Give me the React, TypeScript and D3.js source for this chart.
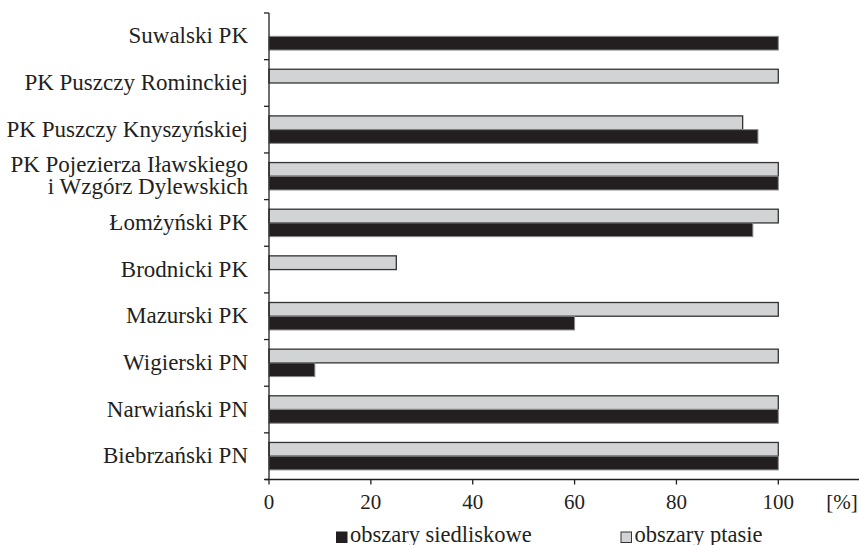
import React, { useEffect, useRef } from 'react';
import * as d3 from 'd3';

// Parks, top to bottom as in the chart
const parks = [
  'Suwalski PK',
  'PK Puszczy Rominckiej',
  'PK Puszczy Knyszyńskiej',
  'PK Pojezierza Iławskiego\ni Wzgórz Dylewskich',
  'Łomżyński PK',
  'Brodnicki PK',
  'Mazurski PK',
  'Wigierski PN',
  'Narwiański PN',
  'Biebrzański PN',
];

// share of park area [%]
const ptasie = [0, 100, 93, 100, 100, 25, 100, 100, 100, 100];
const siedliskowe = [100, 0, 96, 100, 95, 0, 60, 9, 100, 100];

const xTicks = [0, 20, 40, 60, 80, 100];

const seriesNames = ['obszary siedliskowe', 'obszary ptasie'];
const seriesKeys = ['ptasie', 'siedliskowe'];

const COLORS: Record<string, string> = { ptasie: '#d1d3d4', siedliskowe: '#231f20' };
const STROKES: Record<string, string> = { ptasie: '#333333', siedliskowe: '#8a8a8a' };

const WIDTH = 859;
const HEIGHT = 545;
const FONT = '"Liberation Serif", "Times New Roman", serif';

export default function App() {
  const svgRef = useRef<SVGSVGElement>(null);

  useEffect(() => {
    if (!svgRef.current) return;
    const svg = d3.select(svgRef.current);
    svg.selectAll('*').remove();

    const left = 269;
    const top = 13;
    const bottom = 479.5;

    const x = d3.scaleLinear().domain([0, 100]).range([left, 778.3]);
    const y = d3.scaleBand<string>().domain(parks).range([top, bottom]).padding(0);
    const inner = d3.scaleBand<string>().domain(seriesKeys).range([0, y.bandwidth()]).paddingOuter(0.7);

    const rows = parks.map((p, i) => ({ park: p, ptasie: ptasie[i], siedliskowe: siedliskowe[i] }));

    // bars
    const groups = svg.append('g')
      .selectAll('g')
      .data(rows)
      .enter()
      .append('g')
      .attr('transform', (d) => `translate(0,${y(d.park)})`);

    groups.selectAll('rect')
      .data((d) => seriesKeys.map((k) => ({ key: k, value: (d as any)[k] as number })).filter((v) => v.value > 0))
      .enter()
      .append('rect')
      .attr('x', x(0))
      .attr('y', (d) => (inner(d.key) || 0))
      .attr('width', (d) => x(d.value) - x(0))
      .attr('height', inner.bandwidth())
      .attr('fill', (d) => COLORS[d.key])
      .attr('stroke', (d) => STROKES[d.key])
      .attr('stroke-width', (d) => (d.key === 'ptasie' ? 1.3 : 1));

    // y axis line + ticks at band edges
    const axis = svg.append('g').attr('stroke', '#231f20').attr('stroke-width', 1.3);
    axis.append('line').attr('x1', left).attr('x2', left).attr('y1', top).attr('y2', bottom);
    const edges = parks.map((p) => y(p) || 0).concat([bottom]);
    axis.selectAll('.ytick')
      .data(edges)
      .enter()
      .append('line')
      .attr('x1', left - 5)
      .attr('x2', left)
      .attr('y1', (d) => d)
      .attr('y2', (d) => d);

    // x axis
    axis.append('line').attr('x1', left - 4).attr('x2', WIDTH).attr('y1', bottom).attr('y2', bottom);
    axis.selectAll('.xtick')
      .data(xTicks)
      .enter()
      .append('line')
      .attr('x1', (d) => x(d))
      .attr('x2', (d) => x(d))
      .attr('y1', bottom)
      .attr('y2', bottom + 5);

    svg.append('g')
      .selectAll('text')
      .data(xTicks)
      .enter()
      .append('text')
      .attr('x', (d) => x(d))
      .attr('y', 509)
      .attr('text-anchor', 'middle')
      .style('font-family', FONT)
      .style('font-size', '21px')
      .attr('fill', '#231f20')
      .text((d) => d);

    svg.append('text')
      .attr('x', 842)
      .attr('y', 509)
      .attr('text-anchor', 'middle')
      .style('font-family', FONT)
      .style('font-size', '21px')
      .attr('fill', '#231f20')
      .text('[%]');

    // category labels
    const labels = svg.append('g')
      .selectAll('text')
      .data(parks)
      .enter()
      .append('text')
      .attr('text-anchor', 'end')
      .style('font-family', FONT)
      .style('font-size', '23px')
      .attr('fill', '#231f20');

    labels.each(function (d) {
      const lines = d.split('\n');
      const cy = (y(d) || 0) + y.bandwidth() / 2;
      const t = d3.select(this);
      lines.forEach((line, i) => {
        t.append('tspan')
          .attr('x', 248)
          .attr('y', cy + (i - (lines.length - 1) / 2) * 22 + 7)
          .text(line);
      });
    });

    // legend
    const legend = [
      { name: seriesNames[0], key: 'siedliskowe', x: 336 },
      { name: seriesNames[1], key: 'ptasie', x: 620.5 },
    ];
    const lg = svg.append('g')
      .selectAll('g')
      .data(legend)
      .enter()
      .append('g')
      .attr('transform', (d) => `translate(${d.x},0)`);
    lg.append('rect')
      .attr('x', 0.5)
      .attr('y', 532)
      .attr('width', 10.5)
      .attr('height', 10.5)
      .attr('fill', (d) => COLORS[d.key])
      .attr('stroke', (d) => (d.key === 'ptasie' ? '#333333' : '#231f20'))
      .attr('stroke-width', 1);
    lg.append('text')
      .attr('x', 14)
      .attr('y', 542)
      .style('font-family', FONT)
      .style('font-size', '22.5px')
      .attr('fill', '#231f20')
      .text((d) => d.name);
  }, []);

  return (
    <div style={{ position: 'absolute', left: 0, top: 0, background: '#fff' }}>
      <svg ref={svgRef} width={WIDTH} height={HEIGHT} style={{ display: 'block' }} />
    </div>
  );
}
